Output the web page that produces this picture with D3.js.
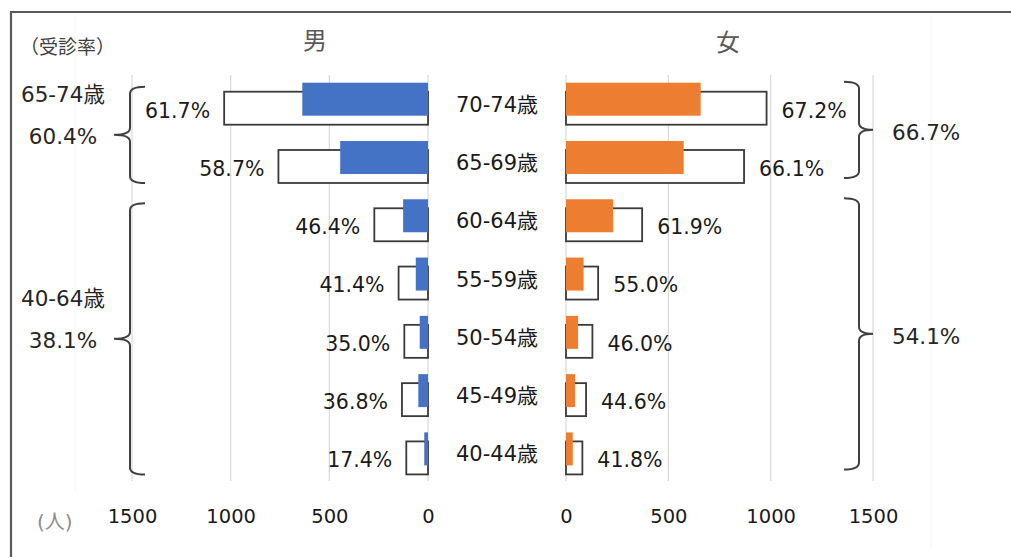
<!DOCTYPE html>
<html lang="ja">
<head>
<meta charset="UTF-8">
<title>受診率</title>
<script src="https://d3js.org/d3.v7.min.js"></script>
<style>
  body {margin: 0; background: #fff;}
  text {font-family: "DejaVu Sans", "Noto Sans CJK JP", sans-serif;}
</style>
</head>
<body>
<div id="chart"></div>
<script>
// data
const ageGroups = ["70-74歳", "65-69歳", "60-64歳", "55-59歳", "50-54歳", "45-49歳", "40-44歳"];
const malePop = [1033, 758, 272, 149, 120, 132, 110];
const maleExam = [637, 445, 126, 62, 42, 49, 19];
const maleRate = ["61.7%", "58.7%", "46.4%", "41.4%", "35.0%", "36.8%", "17.4%"];
const femalePop = [980, 870, 372, 157, 129, 98, 80];
const femaleExam = [658, 575, 230, 86, 59, 44, 33];
const femaleRate = ["67.2%", "66.1%", "61.9%", "55.0%", "46.0%", "44.6%", "41.8%"];
const groupNames = ["65-74歳", "40-64歳"];
const groupRows = [[0, 1], [2, 6]];
const maleGroupRate = ["60.4%", "38.1%"];
const femaleGroupRate = ["66.7%", "54.1%"];
const tickValues = [0, 500, 1000, 1500];

const width = 1011, height = 557;
const svg = d3.select("#chart").append("svg")
    .attr("width", width)
    .attr("height", height);

// scales
const xL = d3.scaleLinear().domain([0, 1500]).range([428, 132]);
const xR = d3.scaleLinear().domain([0, 1500]).range([566, 873]);
const y = d3.scaleBand().domain(ageGroups).range([75, 483]);
const barH = 33;
const examTop = i => y(ageGroups[i]) + 7.7;
const popTop = i => y(ageGroups[i]) + 16.7;
const rowMid = i => y(ageGroups[i]) + y.bandwidth() / 2;

// frame
svg.append("path")
    .attr("d", "M11," + height + " V12 H" + width)
    .attr("fill", "none")
    .attr("stroke", "#5a5a5a")
    .attr("stroke-width", 2.2);

// faint plot-area edges
svg.append("line").attr("x1", 75).attr("x2", 75).attr("y1", 15).attr("y2", 490)
    .attr("stroke", "#f5f5f5");
svg.append("line").attr("x1", 931).attr("x2", 931).attr("y1", 15).attr("y2", 547)
    .attr("stroke", "#f5f5f5");

// gridlines
[xL, xR].forEach(function(sc){
    svg.append("g").selectAll("line")
        .data(tickValues)
        .enter().append("line")
            .attr("x1", d => sc(d)).attr("x2", d => sc(d))
            .attr("y1", 75).attr("y2", 481)
            .attr("stroke", "#d9d9d9")
            .attr("stroke-width", 1.2);
});

// population bars (outlined)
svg.append("g").selectAll("rect")
    .data(malePop)
    .enter().append("rect")
        .attr("x", d => xL(d))
        .attr("y", (d, i) => popTop(i))
        .attr("width", d => xL(0) - xL(d))
        .attr("height", barH)
        .attr("fill", "#fff")
        .attr("stroke", "#3a3a3a")
        .attr("stroke-width", 1.8);

svg.append("g").selectAll("rect")
    .data(femalePop)
    .enter().append("rect")
        .attr("x", xR(0))
        .attr("y", (d, i) => popTop(i))
        .attr("width", d => xR(d) - xR(0))
        .attr("height", barH)
        .attr("fill", "#fff")
        .attr("stroke", "#3a3a3a")
        .attr("stroke-width", 1.8);

// examined bars
svg.append("g").selectAll("rect")
    .data(maleExam)
    .enter().append("rect")
        .attr("x", d => xL(d))
        .attr("y", (d, i) => examTop(i))
        .attr("width", d => xL(0) - xL(d))
        .attr("height", barH)
        .attr("fill", "#4472C4");

svg.append("g").selectAll("rect")
    .data(femaleExam)
    .enter().append("rect")
        .attr("x", xR(0))
        .attr("y", (d, i) => examTop(i))
        .attr("width", d => xR(d) - xR(0))
        .attr("height", barH)
        .attr("fill", "#ED7D31");

// rate labels next to the outlined bars
svg.append("g").selectAll("text")
    .data(maleRate)
    .enter().append("text")
        .attr("x", (d, i) => xL(malePop[i]) - 14)
        .attr("y", (d, i) => popTop(i) + barH / 2 + 2)
        .attr("dy", "0.36em")
        .attr("text-anchor", "end")
        .attr("font-size", "20.5px")
        .attr("fill", "#1a1a1a")
        .text(d => d);

svg.append("g").selectAll("text")
    .data(femaleRate)
    .enter().append("text")
        .attr("x", (d, i) => xR(femalePop[i]) + 15)
        .attr("y", (d, i) => popTop(i) + barH / 2 + 2)
        .attr("dy", "0.36em")
        .attr("text-anchor", "start")
        .attr("font-size", "20.5px")
        .attr("fill", "#1a1a1a")
        .text(d => d);

// age labels in the middle
svg.append("g").selectAll("text")
    .data(ageGroups)
    .enter().append("text")
        .attr("x", (xL(0) + xR(0)) / 2)
        .attr("y", (d, i) => rowMid(i))
        .attr("dy", "0.36em")
        .attr("text-anchor", "middle")
        .attr("font-size", "21px")
        .attr("fill", "#1a1a1a")
        .text(d => d);

// braces
function brace(top, bottom, vx, endX, tipX){
    const mid = (top + bottom) / 2, r = 7;
    return "M" + endX + "," + top +
        " Q" + vx + "," + top + " " + vx + "," + (top + r) +
        " L" + vx + "," + (mid - r) +
        " Q" + vx + "," + mid + " " + tipX + "," + mid +
        " Q" + vx + "," + mid + " " + vx + "," + (mid + r) +
        " L" + vx + "," + (bottom - r) +
        " Q" + vx + "," + bottom + " " + endX + "," + bottom;
}

groupRows.forEach(function(rows, g){
    // left (male)
    const lt = examTop(rows[0]) + 4, lb = popTop(rows[1]) + barH;
    const lm = (lt + lb) / 2;
    svg.append("path")
        .attr("d", brace(lt, lb, 130, 145, 114))
        .attr("fill", "none").attr("stroke", "#404040").attr("stroke-width", 2);
    svg.append("text")
        .attr("x", 63).attr("y", lm - 41).attr("dy", "0.36em")
        .attr("text-anchor", "middle").attr("font-size", "21.5px").attr("fill", "#262626")
        .text(groupNames[g]);
    svg.append("text")
        .attr("x", 63).attr("y", lm + 1).attr("dy", "0.36em")
        .attr("text-anchor", "middle").attr("font-size", "21.5px").attr("fill", "#262626")
        .text(maleGroupRate[g]);

    // right (female)
    const rt = examTop(rows[0]) - 1, rb = popTop(rows[1]) + barH - 5;
    const rm = (rt + rb) / 2;
    svg.append("path")
        .attr("d", brace(rt, rb, 859, 844, 873))
        .attr("fill", "none").attr("stroke", "#404040").attr("stroke-width", 2);
    svg.append("text")
        .attr("x", 892).attr("y", rm + 2).attr("dy", "0.36em")
        .attr("text-anchor", "start").attr("font-size", "21.5px").attr("fill", "#262626")
        .text(femaleGroupRate[g]);
});

// axes
[xL, xR].forEach(function(sc){
    const ax = svg.append("g")
        .attr("transform", "translate(0,516)")
        .call(d3.axisBottom(sc).tickValues(tickValues).tickFormat(d3.format("d"))
            .tickSize(0).tickPadding(0));
    ax.attr("font-size", "19.5px").attr("font-family", null);
    ax.select(".domain").remove();
    ax.selectAll("text")
        .attr("y", 0)
        .attr("dy", "0.36em")
        .attr("fill", "#1a1a1a");
});

// titles and units
svg.append("text")
    .attr("x", 315).attr("y", 40).attr("dy", "0.36em")
    .attr("text-anchor", "middle").attr("font-size", "24px").attr("fill", "#595959")
    .text("男");
svg.append("text")
    .attr("x", 728).attr("y", 42).attr("dy", "0.36em")
    .attr("text-anchor", "middle").attr("font-size", "24px").attr("fill", "#595959")
    .text("女");
svg.append("text")
    .attr("x", 20).attr("y", 47).attr("dy", "0.36em")
    .attr("font-size", "19px").attr("fill", "#404040")
    .text("（受診率）");
svg.append("text")
    .attr("x", 37).attr("y", 522).attr("dy", "0.36em")
    .attr("font-size", "20px").attr("fill", "#8c8c8c")
    .text("(人)");
</script>
</body>
</html>
